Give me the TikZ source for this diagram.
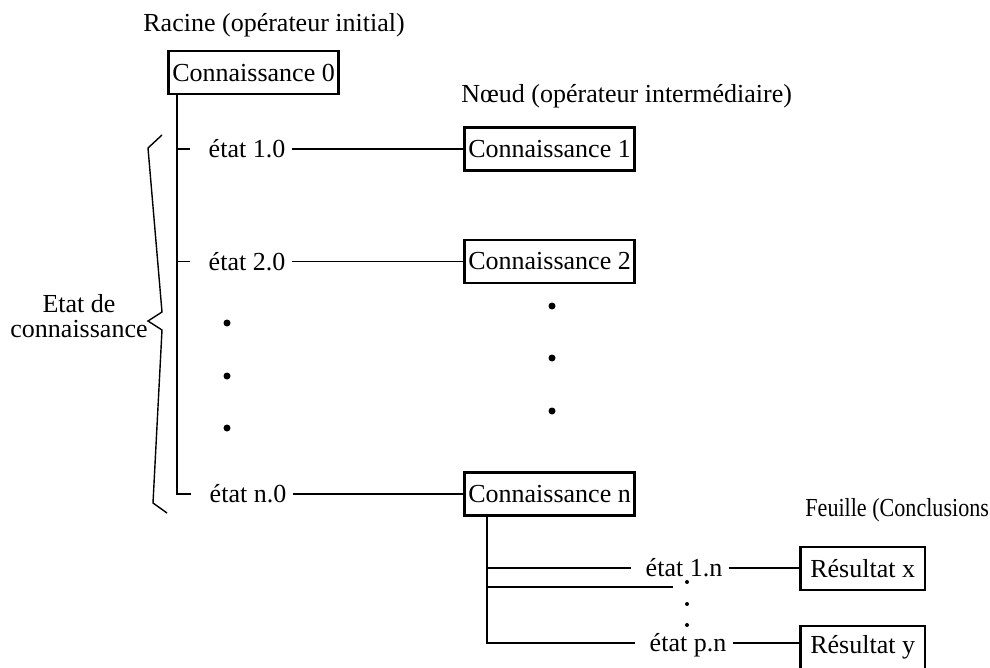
\documentclass[tikz,border=0pt]{standalone}
\usepackage{fontspec}
\setmainfont{Liberation Serif}
\usepackage{tikz}

\tikzset{
    boite/.style={draw, line width=1.35pt, minimum height=21.5pt, inner ysep=0pt, inner xsep=2pt, anchor=west},
    etat/.style={inner xsep=3pt, inner ysep=0pt, text height=8.6pt, text depth=0pt},
    titre/.style={anchor=base west, inner sep=0pt},
    trait/.style={line width=0.7pt},
}

\begin{document}
\begin{tikzpicture}[x=0.5pt, y=-0.5pt, font=\fontsize{13}{12.5}\selectfont]
    \useasboundingbox (0,0) rectangle (990,668);
    % racine et premier niveau
    \node[titre] (racine) at (143,32) {Racine (opérateur initial)};
    \node[boite] (k0) at (167,72.5) {Connaissance 0};
    \node[titre] (noeud) at (461,103) {Nœud (opérateur intermédiaire)};
    \node[boite] (k1) at (463,149) {Connaissance 1};
    \node[boite] (k2) at (463,261.5) {Connaissance 2};
    \node[boite] (kn) at (463,494) {Connaissance n};
    \node[etat] (e10) at (247,149) {état 1.0};
    \node[etat] (e20) at (247,261.5) {état 2.0};
    \node[etat] (en0) at (248,494) {état n.0};
    \coordinate (tronc) at ([xshift=5pt]k0.south west);
    \draw[trait] (tronc) |- ([xshift=-6pt]en0.west);
    \draw[trait] (tronc |- e10) -- ([xshift=-6pt]e10.west);
    \draw[trait] (tronc |- e20) -- ([xshift=-6pt]e20.west);
    \draw[trait] (e10.east) -- (k1.west);
    \draw[trait] (e20.east) -- (k2.west);
    \draw[trait] (en0.east) -- (kn.west);
    \foreach \y in {323,376,428} \fill (227,\y) circle (1.75pt);
    \foreach \y in {306,358,411} \fill (552,\y) circle (1.75pt);
    % accolade
    \node[align=center, inner sep=0pt] (etatcon) at (79,316) {Etat de\\connaissance};
    \draw[trait] (162,135) -- (148,148) -- (162,312) -- (148,321) -- (162,330) -- (153,503) -- (167,513);
    % feuilles
    \node[titre] (feuille) at (805,516) {\scalebox{0.85}[1]{Feuille (Conclusions}};
    \node[boite, inner xsep=5pt] (rx) at (799,568.5) {Résultat x};
    \node[boite, inner xsep=5pt] (ry) at (799,647.5) {Résultat y};
    \node[etat] (e1n) at (684,568) {état 1.n};
    \node[etat] (epn) at (688,643) {état p.n};
    \coordinate (tronc2) at ([xshift=12pt]kn.south west);
    \coordinate (mil) at (673,587);
    \draw[trait] (tronc2) |- ([xshift=-4pt]epn.west);
    \draw[trait] (tronc2 |- e1n) -- ([xshift=-4pt]e1n.west);
    \draw[trait] (tronc2 |- mil) -- (mil);
    \draw[trait] (e1n.east) -- (e1n.east -| rx.west);
    \draw[trait] (epn.east) -- (epn.east -| ry.west);
    \foreach \y in {582,604,625} \fill (687,\y) circle (1pt);
\end{tikzpicture}
\end{document}
